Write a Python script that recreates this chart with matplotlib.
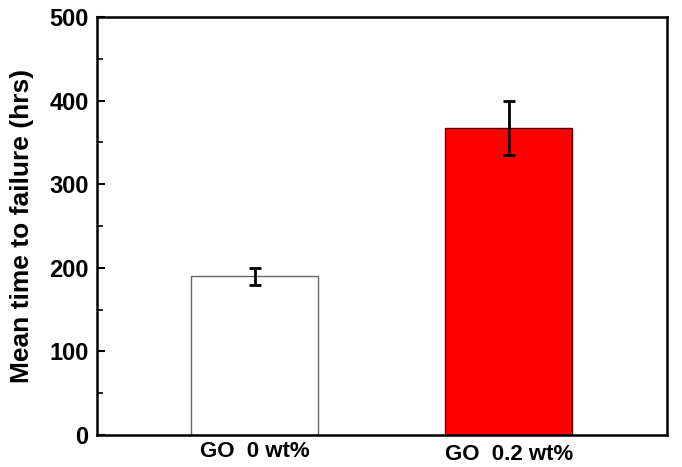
import numpy as np
import matplotlib.pyplot as plt
from matplotlib.ticker import MultipleLocator

plt.rcParams['font.family'] = ['Liberation Sans', 'DejaVu Sans']
plt.rcParams['font.weight'] = 'bold'

labels = ['GO  0 wt%', 'GO  0.2 wt%']
mean_hrs = [190, 367]
err_hrs = [10, 32]
colors = ['white', '#ff0000']
edges = ['#666666', '#550000']

fig = plt.figure(figsize=(6.82, 4.67), dpi=100)
ax = fig.add_axes([0.142, 0.0685, 0.836, 0.895])

x = np.arange(1, len(mean_hrs) + 1)
ax.bar(x, mean_hrs, width=0.5, color=colors, edgecolor=edges, linewidth=1.0, zorder=2)
ax.errorbar(x, mean_hrs, yerr=err_hrs, fmt='none', ecolor='black', elinewidth=2,
            capsize=4.5, capthick=2, zorder=3)

ax.set_xlim(0.378, 2.622)
ax.set_ylim(0, 500)
ax.yaxis.set_major_locator(MultipleLocator(100))
ax.yaxis.set_minor_locator(MultipleLocator(50))
ax.tick_params(axis='y', which='major', direction='in', length=6, width=1.5, labelsize=17, pad=6)
ax.tick_params(axis='y', which='minor', direction='in', length=4, width=1.2)
ax.tick_params(axis='x', length=0, labelbottom=False)
ax.set_xticks(x)
for sp in ax.spines.values():
    sp.set_linewidth(1.8)

# category labels (the second sits a little lower in the original)
offs = [-0.064, -0.072]
for xi, lab, dy in zip(x, labels, offs):
    ax.text(xi, dy, lab, transform=ax.get_xaxis_transform(), ha='center', va='bottom',
            fontsize=16, fontweight='bold')

ax.set_ylabel('Mean time to failure (hrs)', fontsize=19, fontweight='bold', labelpad=11)

fig.savefig('out.png', dpi=100)
